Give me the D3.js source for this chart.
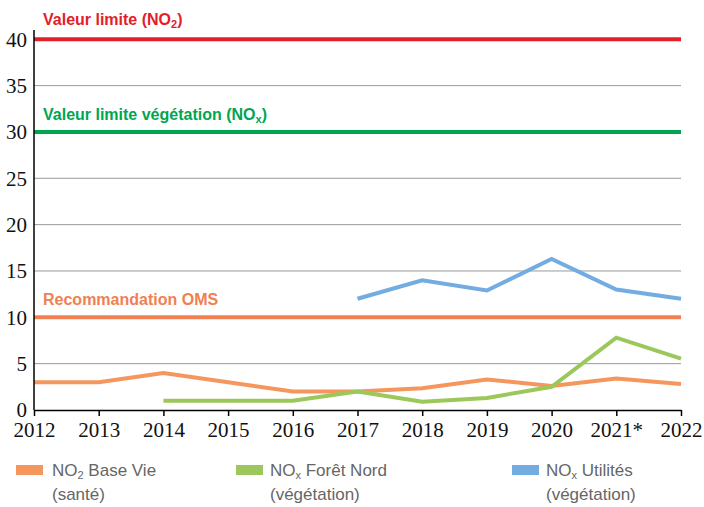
<!DOCTYPE html>
<html>
<head>
<meta charset="utf-8">
<script src="https://cdn.jsdelivr.net/npm/d3@7"></script>
<style>
  body { margin: 0; background: #fff; }
</style>
</head>
<body>
<script>
// data
var years = ['2012', '2013', '2014', '2015', '2016', '2017', '2018', '2019', '2020', '2021', '2022']
var yearLabels = ['2012', '2013', '2014', '2015', '2016', '2017', '2018', '2019', '2020', '2021*', '2022']
var no2BaseVie = [3, 3, 4, 3, 2, 2, 2.35, 3.3, 2.6, 3.4, 2.8]
var noxForetNord = [null, null, 1, 1, 1, 2, 0.9, 1.3, 2.5, 7.8, 5.55]
var noxUtilites = [null, null, null, null, null, 12, 14, 12.9, 16.3, 13, 12]
var yTicks = [0, 5, 10, 15, 20, 25, 30, 35, 40]
var gridValues = [5, 15, 20, 25, 35]

// thresholds
var thresholds = [
  { value: 40, label: 'Valeur limite (NO', sub: '2', end: ')', color: '#e3202a', labelY: 25 },
  { value: 30, label: 'Valeur limite végétation (NO', sub: 'x', end: ')', color: '#00a54f', labelY: 120 },
  { value: 10, label: 'Recommandation OMS', sub: '', end: '', color: '#f07f52', labelY: 305 }
]

var series = [
  { name: 'NO', sub: '2', rest: ' Base Vie', line2: '(santé)', values: no2BaseVie, color: '#f5965c', lx: 16, tx: 52 },
  { name: 'NO', sub: 'x', rest: ' Forêt Nord', line2: '(végétation)', values: noxForetNord, color: '#9cc85b', lx: 236, tx: 270 },
  { name: 'NO', sub: 'x', rest: ' Utilités', line2: '(végétation)', values: noxUtilites, color: '#72ace0', lx: 512, tx: 546 }
]

var w = 704
var h = 507

var svg = d3.select('body')
  .append('svg')
  .attr('width', w)
  .attr('height', h)

var xScale = d3.scalePoint()
  .domain(years)
  .range([34, 681])

var yScale = d3.scaleLinear()
  .domain([0, 41])
  .range([410, 30])

// grid lines
svg.selectAll('line.grid')
  .data(gridValues)
  .enter()
  .append('line')
  .attr('class', 'grid')
  .attr('x1', 34)
  .attr('x2', 681)
  .attr('y1', function (d) { return yScale(d) })
  .attr('y2', function (d) { return yScale(d) })
  .attr('stroke', '#9a9a9a')
  .attr('stroke-width', 1)

// threshold lines
svg.selectAll('line.thr')
  .data(thresholds)
  .enter()
  .append('line')
  .attr('class', 'thr')
  .attr('x1', 34)
  .attr('x2', 681)
  .attr('y1', function (d) { return yScale(d.value) })
  .attr('y2', function (d) { return yScale(d.value) })
  .attr('stroke', function (d) { return d.color })
  .attr('stroke-width', 4)

var thrText = svg.selectAll('text.thr')
  .data(thresholds)
  .enter()
  .append('text')
  .attr('class', 'thr')
  .attr('x', 43)
  .attr('y', function (d) { return d.labelY })
  .attr('font-family', 'Liberation Sans, Arial, sans-serif')
  .attr('font-weight', 'bold')
  .attr('font-size', '16px')
  .attr('fill', function (d) { return d.color })
thrText.append('tspan').text(function (d) { return d.label })
thrText.append('tspan')
  .attr('font-size', '11px')
  .attr('dy', 3)
  .text(function (d) { return d.sub })
thrText.append('tspan')
  .attr('dy', -3)
  .text(function (d) { return d.end })

// series lines
var line = d3.line()
  .defined(function (d) { return d.v !== null })
  .x(function (d) { return xScale(d.year) })
  .y(function (d) { return yScale(d.v) })

series.forEach(function (s) {
  var pts = years.map(function (y, i) { return { year: y, v: s.values[i] } })
  svg.append('path')
    .datum(pts)
    .attr('d', line)
    .attr('fill', 'none')
    .attr('stroke', s.color)
    .attr('stroke-width', 4)
    .attr('stroke-linejoin', 'miter')
})

// axes
var xAxis = d3.axisBottom(xScale)
  .tickSize(6)
  .tickSizeOuter(0)
  .tickFormat(function (d, i) { return yearLabels[i] })

var gx = svg.append('g')
  .attr('transform', 'translate(0,410)')
  .call(xAxis)
gx.select('.domain').attr('stroke', '#000').attr('stroke-width', 1.5)
gx.selectAll('.tick line').attr('stroke', '#000').attr('stroke-width', 1.5)
gx.selectAll('.tick text')
  .attr('font-family', 'Liberation Serif, Times New Roman, serif')
  .attr('font-size', '21px')
  .attr('fill', '#111')
  .attr('dy', null)
  .attr('y', 27)

var yAxis = d3.axisLeft(yScale)
  .tickValues(yTicks)
  .tickSize(0)
  .tickPadding(7)

var gy = svg.append('g')
  .attr('transform', 'translate(34,0)')
  .call(yAxis)
gy.select('.domain').remove()
gy.selectAll('.tick text')
  .attr('font-family', 'Liberation Serif, Times New Roman, serif')
  .attr('font-size', '21px')
  .attr('fill', '#111')
  .attr('dy', '0.32em')

svg.append('line')
  .attr('x1', 34)
  .attr('x2', 34)
  .attr('y1', 30)
  .attr('y2', 410)
  .attr('stroke', '#000')
  .attr('stroke-width', 1.5)

// legend
var leg = svg.selectAll('g.leg')
  .data(series)
  .enter()
  .append('g')
  .attr('class', 'leg')

leg.append('rect')
  .attr('x', function (d) { return d.lx })
  .attr('y', 465)
  .attr('width', 27)
  .attr('height', 10)
  .attr('fill', function (d) { return d.color })

var lt = leg.append('text')
  .attr('x', function (d) { return d.tx })
  .attr('y', 476)
  .attr('font-family', 'Liberation Sans, Arial, sans-serif')
  .attr('font-size', '17px')
  .attr('fill', '#666')
lt.append('tspan').text(function (d) { return d.name })
lt.append('tspan')
  .attr('font-size', '11px')
  .attr('dy', 3)
  .text(function (d) { return d.sub })
lt.append('tspan')
  .attr('dy', -3)
  .text(function (d) { return d.rest })

leg.append('text')
  .attr('x', function (d) { return d.tx })
  .attr('y', 500)
  .attr('font-family', 'Liberation Sans, Arial, sans-serif')
  .attr('font-size', '17px')
  .attr('fill', '#666')
  .text(function (d) { return d.line2 })
</script>
</body>
</html>
